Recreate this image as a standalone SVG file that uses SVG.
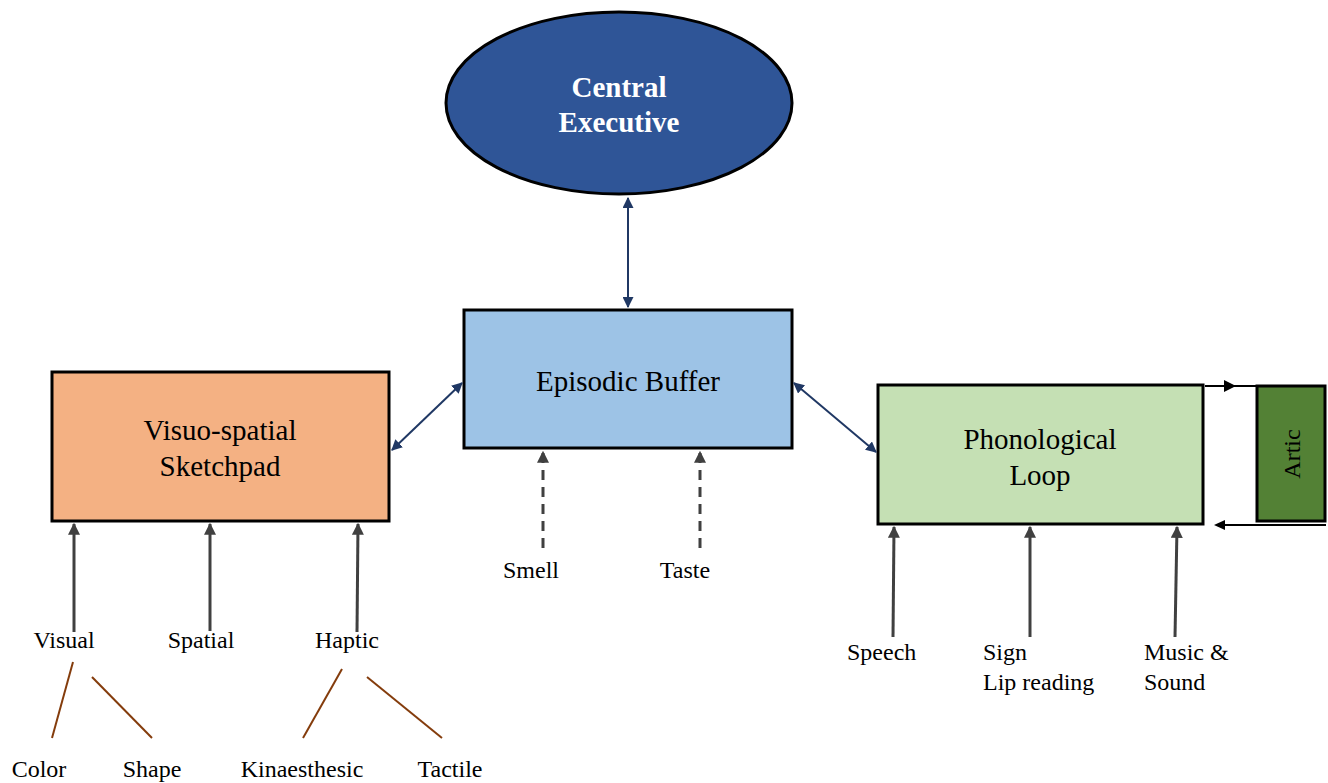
<svg xmlns="http://www.w3.org/2000/svg" width="1328" height="783" viewBox="0 0 1328 783">
<defs>
<marker id="nav" viewBox="0 0 10 10" refX="9" refY="5" markerWidth="5.5" markerHeight="5.5" orient="auto-start-reverse" markerUnits="strokeWidth">
<path d="M0,0 L10,5 L0,10 z" fill="#203864"/>
</marker>
<marker id="gr" viewBox="0 0 10 10" refX="9" refY="5" markerWidth="4" markerHeight="4" orient="auto" markerUnits="strokeWidth">
<path d="M0,0 L10,5 L0,10 z" fill="#404040"/>
</marker>
<marker id="bk" viewBox="0 0 10 10" refX="5" refY="5" markerWidth="6" markerHeight="6" orient="auto" markerUnits="strokeWidth">
<path d="M0,0 L10,5 L0,10 z" fill="#000"/>
</marker>
</defs>
<style>
text{font-family:"Liberation Serif","Times New Roman",serif;fill:#000}
.box{stroke:#000;stroke-width:3}
.big{font-size:29px;text-anchor:middle}
.sm{font-size:24px}
.c{text-anchor:middle}
.nav{stroke:#203864;stroke-width:2;fill:none;marker-start:url(#nav);marker-end:url(#nav)}
.gr{stroke:#404040;stroke-width:3;fill:none;marker-end:url(#gr)}
.dash{stroke:#404040;stroke-width:3;fill:none;stroke-dasharray:10,7;marker-end:url(#gr)}
.br{stroke:#843C0C;stroke-width:2;fill:none}
</style>
<rect width="1328" height="783" fill="#fff"/>
<g id="central-executive">
<ellipse cx="619" cy="103" rx="173" ry="91" fill="#2F5597" class="box"/>
<text x="619" y="97" class="big" style="fill:#fff;font-weight:bold">Central</text>
<text x="619" y="132" class="big" style="fill:#fff;font-weight:bold">Executive</text>
</g>
<g id="episodic-buffer">
<rect x="464" y="310" width="328" height="138" fill="#9DC3E6" class="box"/>
<text x="628" y="391" class="big">Episodic Buffer</text>
</g>
<g id="visuo-spatial">
<rect x="52" y="372" width="337" height="149" fill="#F4B183" class="box"/>
<text x="220" y="440" class="big">Visuo-spatial</text>
<text x="220" y="476" class="big">Sketchpad</text>
</g>
<g id="phonological-loop">
<rect x="878" y="385" width="325" height="139" fill="#C5E0B4" class="box"/>
<text x="1040" y="449" class="big">Phonological</text>
<text x="1040" y="485" class="big">Loop</text>
</g>
<g id="artic">
<rect x="1257" y="386" width="68" height="135" fill="#538135" class="box"/>
<text x="0" y="0" class="sm c" transform="translate(1300,454) rotate(-90)">Artic</text>
</g>
<g id="connectors">
<line x1="628" y1="198" x2="628" y2="307" class="nav"/>
<line x1="392" y1="450" x2="462" y2="383" class="nav"/>
<line x1="794" y1="383" x2="876" y2="452" class="nav"/>
<line x1="1205" y1="386" x2="1230" y2="386" stroke="#000" stroke-width="2" marker-end="url(#bk)"/>
<line x1="1230" y1="386" x2="1257" y2="386" stroke="#000" stroke-width="2"/>
<line x1="1326" y1="525" x2="1218" y2="525" stroke="#000" stroke-width="2"/>
<polygon points="1214,525 1225,520 1225,530" fill="#000"/>
<line x1="74" y1="632" x2="74" y2="524" class="gr"/>
<line x1="210" y1="631" x2="210" y2="524" class="gr"/>
<line x1="357" y1="632" x2="358" y2="524" class="gr"/>
<line x1="543" y1="548" x2="543" y2="452" class="dash"/>
<line x1="700" y1="548" x2="700" y2="452" class="dash"/>
<line x1="893" y1="637" x2="894" y2="527" class="gr"/>
<line x1="1030" y1="637" x2="1030" y2="527" class="gr"/>
<line x1="1175" y1="637" x2="1177" y2="527" class="gr"/>
<line x1="73" y1="662" x2="52" y2="738" class="br"/>
<line x1="92" y1="677" x2="152" y2="738" class="br"/>
<line x1="342" y1="669" x2="303" y2="738" class="br"/>
<line x1="367" y1="677" x2="442" y2="738" class="br"/>
</g>
<g id="labels">
<text x="64" y="648" class="sm c">Visual</text>
<text x="201" y="648" class="sm c">Spatial</text>
<text x="347" y="648" class="sm c">Haptic</text>
<text x="39" y="777" class="sm c">Color</text>
<text x="152" y="777" class="sm c">Shape</text>
<text x="302" y="777" class="sm c">Kinaesthesic</text>
<text x="450" y="777" class="sm c">Tactile</text>
<text x="531" y="578" class="sm c">Smell</text>
<text x="685" y="578" class="sm c">Taste</text>
<text x="847" y="660" class="sm">Speech</text>
<text x="983" y="660" class="sm">Sign</text>
<text x="983" y="690" class="sm">Lip reading</text>
<text x="1144" y="660" class="sm">Music &amp;</text>
<text x="1144" y="690" class="sm">Sound</text>
</g>
</svg>
